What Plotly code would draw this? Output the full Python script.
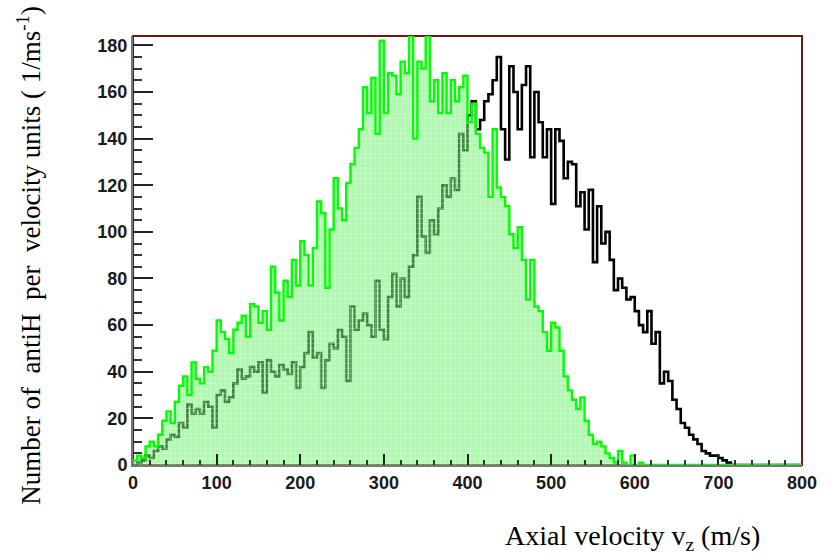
import plotly.graph_objects as go

bin_width = 5
x_max = 800
y_max = 184

# Green (filled) histogram, 5 m/s bins starting at 0
green = [2, 4, 3, 8, 10, 8, 13, 19, 23, 18,
         27, 34, 38, 30, 44, 37, 35, 42, 40, 49,
         62, 57, 54, 48, 58, 61, 64, 55, 69, 68,
         61, 66, 58, 85, 74, 62, 79, 72, 88, 77,
         96, 90, 77, 93, 113, 108, 76, 101, 123, 110,
         105, 121, 129, 136, 144, 162, 151, 166, 142, 182,
         151, 168, 167, 159, 173, 168, 184, 140, 173, 170,
         184, 156, 165, 151, 168, 151, 165, 156, 162, 167,
         147, 155, 142, 136, 134, 115, 144, 119, 115, 111,
         99, 93, 102, 88, 71, 88, 68, 66, 57, 49,
         61, 59, 49, 38, 32, 28, 24, 29, 19, 13,
         9, 10, 8, 5, 3, 1, 6, 1, 0, 4,
         0, 1]

# Black histogram, 5 m/s bins starting at 0
black = [0, 1, 2, 4, 3, 6, 8, 7, 11, 13,
         12, 18, 16, 26, 22, 24, 22, 27, 25, 16,
         30, 32, 27, 29, 35, 41, 37, 38, 42, 40,
         44, 31, 45, 40, 38, 43, 41, 39, 44, 33,
         42, 48, 57, 46, 48, 33, 45, 52, 50, 58,
         55, 36, 68, 58, 62, 65, 60, 55, 79, 58,
         54, 72, 82, 68, 80, 72, 85, 90, 115, 98,
         91, 105, 99, 110, 120, 115, 123, 118, 142, 135,
         150, 156, 144, 148, 156, 159, 165, 175, 144, 131,
         171, 160, 144, 163, 171, 132, 160, 147, 132, 144,
         112, 144, 139, 123, 130, 129, 111, 117, 101, 118,
         87, 111, 95, 100, 88, 75, 80, 76, 71, 72,
         66, 60, 57, 66, 52, 57, 35, 40, 36, 28,
         24, 18, 16, 13, 11, 9, 6, 5, 4, 4,
         3, 2, 1, 0]

x_ticks = [0, 100, 200, 300, 400, 500, 600, 700, 800]
y_ticks = [0, 20, 40, 60, 80, 100, 120, 140, 160, 180]
x_minor_step = 20
y_minor_step = 5

W, H = 829, 559
M = dict(l=133, r=21, t=36, b=94)

n_bins = x_max // bin_width


def step_xy(vals):
    v = list(vals) + [0] * (n_bins - len(vals))
    xs = [i * bin_width for i in range(n_bins + 1)]
    ys = v + [v[-1]]
    return xs, ys


bx, by = step_xy(black)
gx, gy = step_xy(green)

fig = go.Figure()
fig.add_trace(go.Scatter(
    x=bx, y=by, mode="lines", line=dict(shape="hv", color="black", width=2.6),
    hoverinfo="skip", showlegend=False))
fig.add_trace(go.Scatter(
    x=gx, y=gy, mode="lines", line=dict(shape="hv", color="#00ff00", width=2.4),
    fill="tozeroy", fillcolor="rgba(112,244,112,0.55)",
    fillpattern=dict(shape="+", fgcolor="rgba(255,255,255,0.8)", size=5,
                     solidity=0.22, fillmode="overlay"),
    hoverinfo="skip", showlegend=False))

tick_font = dict(family="Liberation Sans", size=18, color="#1a1a1a", weight="bold")
fig.update_layout(
    xaxis=dict(
        range=[0, x_max], tickmode="array", tickvals=x_ticks,
        ticktext=[str(t) for t in x_ticks],
        ticks="inside", ticklen=11, tickwidth=2, tickcolor="#222",
        minor=dict(dtick=x_minor_step, ticks="inside", ticklen=5,
                   tickwidth=2, tickcolor="#333"),
        showgrid=False, zeroline=False, showline=True, linecolor="#777",
        linewidth=2, tickfont=tick_font),
    yaxis=dict(
        range=[0, y_max], tickmode="array", tickvals=y_ticks,
        ticktext=[str(t) for t in y_ticks],
        ticks="inside", ticklen=20, tickwidth=2, tickcolor="#222",
        minor=dict(dtick=y_minor_step, ticks="inside", ticklen=9,
                   tickwidth=2, tickcolor="#333"),
        showgrid=False, zeroline=False, showline=True, linecolor="#777",
        linewidth=2, tickfont=tick_font),
)

fig.add_shape(type="rect", xref="paper", yref="paper", x0=0, y0=0, x1=1, y1=1,
              line=dict(color="#7a1414", width=2), layer="below")

sp = "\u00a0"
fig.add_annotation(
    text=f"Number of {sp}antiH {sp}per {sp}velocity units ( 1/ms<sup>-1</sup>)",
    xref="paper", yref="paper", x=-0.1556, y=0.49, textangle=-90,
    xanchor="center", yanchor="middle", showarrow=False,
    font=dict(family="Liberation Serif", size=27, color="black"))
fig.add_annotation(
    text="Axial velocity v<sub>z</sub> (m/s)",
    xref="paper", yref="paper", x=0.7467, y=-0.17,
    xanchor="center", yanchor="middle", showarrow=False,
    font=dict(family="Liberation Serif", size=28, color="black"))

fig.update_layout(
    width=W, height=H, margin=M,
    paper_bgcolor="white", plot_bgcolor="white")

fig.write_html("out.html")
